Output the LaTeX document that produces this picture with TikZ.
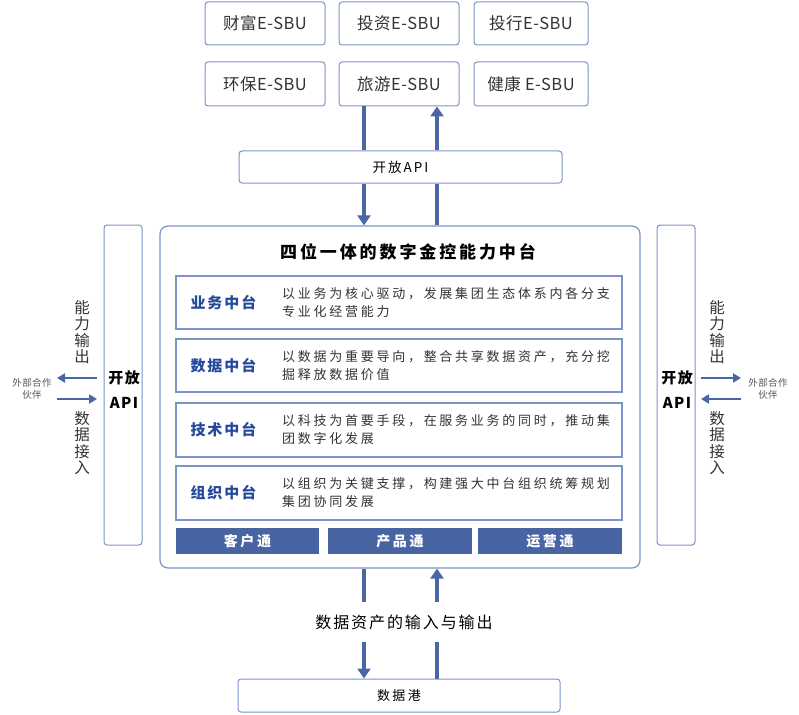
\documentclass[tikz,border=0pt]{standalone}
\usepackage{fontspec}
\setmainfont{Noto Sans CJK SC}
\usetikzlibrary{arrows.meta}
\definecolor{arr}{HTML}{4A66A4}
\definecolor{bar}{HTML}{4864A2}
\definecolor{bord}{HTML}{7C92C8}
\definecolor{lab}{HTML}{24489A}
\definecolor{txt}{HTML}{333333}
\definecolor{ptxt}{HTML}{555555}
\tikzset{
  box/.style={draw=bord, line width=1pt, rounded corners=3pt, fill=white, inner sep=0pt, text=txt},
  rowbox/.style={draw=bord, line width=1.2pt, fill=white, inner sep=0pt},
  barbox/.style={fill=bar, inner sep=0pt, text=white, font=\fontsize{14}{16}\selectfont\bfseries\addfontfeature{LetterSpace=18}},
  sbu/.style={box, font=\fontsize{16.5}{18}\selectfont\addfontfeature{LetterSpace=3}},
  arrowln/.style={draw=arr, line width=3.5pt, -{Triangle[width=13pt,length=10pt]}},
  plainln/.style={draw=arr, line width=3.5pt},
  sidearr/.style={draw=arr, line width=2.6pt, -{Triangle[width=9pt,length=8pt]}},
  lbl/.style={anchor=west, text=lab, font=\fontsize{15}{18}\selectfont\bfseries\addfontfeature{LetterSpace=13}},
  desc/.style={anchor=west, align=left, text=txt, inner sep=0pt, font=\fontsize{13}{18}\selectfont\addfontfeature{LetterSpace=21}},
  vtext/.style={align=center, text=txt, inner sep=0pt, font=\fontsize{15.5}{16.5}\selectfont},
  partner/.style={align=center, text=ptxt, inner sep=0pt, font=\fontsize{9.5}{12}\selectfont\addfontfeature{LetterSpace=5}},
  apitext/.style={text=black, inner sep=0pt, align=center, font=\fontsize{15}{25}\selectfont\bfseries\addfontfeature{LetterSpace=10}}
}
\begin{document}
\begin{tikzpicture}[x=1pt,y=-1pt]
\useasboundingbox (0,0) rectangle (799,714);
% SBU boxes
\node[sbu, minimum width=120pt, minimum height=43pt] (s1) at (265,23.5) {财富E-SBU};
\node[sbu, minimum width=120pt, minimum height=43pt] (s2) at (399,23.5) {投资E-SBU};
\node[sbu, minimum width=114pt, minimum height=43pt] (s3) at (531,23.5) {投行E-SBU};
\node[sbu, minimum width=120pt, minimum height=44pt] (s4) at (265,84) {环保E-SBU};
\node[sbu, minimum width=120pt, minimum height=44pt] (s5) at (399,84) {旅游E-SBU};
\node[sbu, minimum width=114pt, minimum height=44pt] (s6) at (531,84) {健康 E-SBU};
% top open API
\node[box, minimum width=323pt, minimum height=32pt, font=\fontsize{13.5}{16}\selectfont\addfontfeature{LetterSpace=15}, text=black] (apit) at (400.5,167) {开放API};
% main box
\node[draw=bord, line width=1.2pt, rounded corners=8pt, fill=white, minimum width=480pt, minimum height=342pt, inner sep=0pt] (main) at (400,397) {};
\node[text=black, inner sep=0pt, font=\fontsize{17}{20}\selectfont\bfseries\addfontfeature{LetterSpace=17}] (title) at (408,252) {四位一体的数字金控能力中台};
% rows
\node[rowbox, minimum width=446pt, minimum height=53pt] (r1) at (399,302.5) {};
\node[rowbox, minimum width=446pt, minimum height=53pt] (r2) at (399,365.5) {};
\node[rowbox, minimum width=446pt, minimum height=54pt] (r3) at (399,430) {};
\node[rowbox, minimum width=446pt, minimum height=54pt] (r4) at (399,493) {};
\node[lbl] (l1) at (187,303) {业务中台};
\node[lbl] (l2) at (187,366) {数据中台};
\node[lbl] (l3) at (187,430) {技术中台};
\node[lbl] (l4) at (187,493) {组织中台};
\node[desc] (d1) at (282,303) {以业务为核心驱动，发展集团生态体系内各分支\\专业化经营能力};
\node[desc] (d2) at (282,366) {以数据为重要导向，整合共享数据资产，充分挖\\掘释放数据价值};
\node[desc] (d3) at (282,430) {以科技为首要手段，在服务业务的同时，推动集\\团数字化发展};
\node[desc] (d4) at (282,493) {以组织为关键支撑，构建强大中台组织统筹规划\\集团协同发展};
% bars
\node[barbox, minimum width=143pt, minimum height=26pt] (b1) at (247.5,541) {客户通};
\node[barbox, minimum width=144pt, minimum height=26pt] (b2) at (400,541) {产品通};
\node[barbox, minimum width=144pt, minimum height=26pt] (b3) at (550,541) {运营通};
% side API boxes
\node[box, minimum width=38pt, minimum height=320pt] (lapi) at (123,385) {};
\node[box, minimum width=38pt, minimum height=320pt] (rapi) at (676,385) {};
\node[apitext] (lapit) at (124,390) {开放\\API};
\node[apitext] (rapit) at (677,390) {开放\\API};
% side vertical texts
\node[vtext] (lout) at (82,332) {能\\力\\输\\出};
\node[vtext] (lin) at (82,443) {数\\据\\接\\入};
\node[vtext] (rout) at (717,332) {能\\力\\输\\出};
\node[vtext] (rin) at (717,443) {数\\据\\接\\入};
\node[partner] (lp) at (32,389) {外部合作\\伙伴};
\node[partner] (rp) at (768,389) {外部合作\\伙伴};
% side arrows
\coordinate (la1) at (97,378); \coordinate (la2) at (57,378);
\coordinate (la3) at (57,399); \coordinate (la4) at (97,399);
\coordinate (ra1) at (701,378); \coordinate (ra2) at (741,378);
\coordinate (ra3) at (741,399); \coordinate (ra4) at (701,399);
\draw[sidearr] (la1) -- (la2);
\draw[sidearr] (la3) -- (la4);
\draw[sidearr] (ra1) -- (ra2);
\draw[sidearr] (ra3) -- (ra4);
% top arrows
\coordinate (L) at (364,0);
\coordinate (R) at (437,0);
\draw[plainln] (s5.south -| L) -- (apit.north -| L);
\draw[arrowln] (apit.south -| L) -- (main.north -| L);
\draw[plainln] (main.north -| R) -- (apit.south -| R);
\draw[arrowln] (apit.north -| R) -- (s5.south -| R);
% bottom
\node[inner sep=0pt, minimum height=40pt, text=black, font=\fontsize{16}{18}\selectfont\addfontfeature{LetterSpace=12}] (io) at (404,622) {数据资产的输入与输出};
\node[box, minimum width=322pt, minimum height=33pt, text=black, font=\fontsize{13}{16}\selectfont\addfontfeature{LetterSpace=18}] (port) at (399,695.5) {数据港};
\draw[plainln] (main.south -| L) -- (io.north -| L);
\draw[arrowln] (io.south -| L) -- (port.north -| L);
\draw[plainln] (port.north -| R) -- (io.south -| R);
\draw[arrowln] (io.north -| R) -- (main.south -| R);
\end{tikzpicture}
\end{document}
